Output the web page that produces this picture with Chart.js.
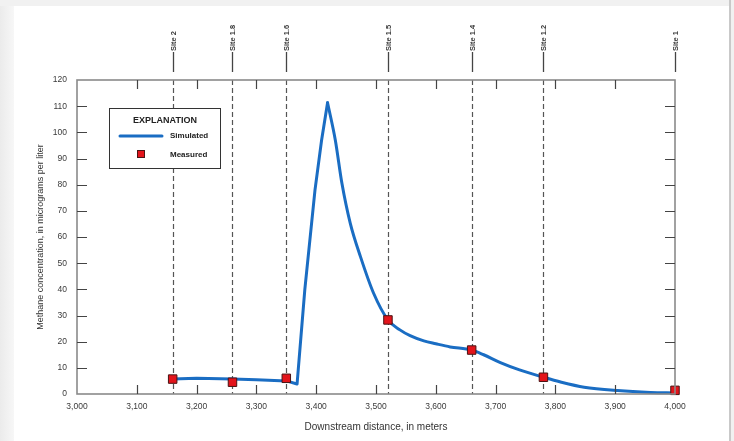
<!DOCTYPE html>
<html><head><meta charset="utf-8">
<script src="https://cdn.jsdelivr.net/npm/chart.js@4/dist/chart.umd.min.js"></script>
<style>
html,body{margin:0;padding:0;background:#fff;}
#wrap{position:relative;width:734px;height:441px;background:#fff;overflow:hidden}
#lstrip{position:absolute;left:0;top:0;width:14px;height:441px;background:linear-gradient(to right,#ebebeb,#f7f7f7)}
#tstrip{position:absolute;left:0;top:0;width:734px;height:6px;background:#f1f1f1}
#rstrip{position:absolute;right:0;top:0;width:3px;height:441px;background:#f1f1f1;border-left:2px solid #c9c9c9}
canvas{position:absolute;left:0;top:0}
</style></head>
<body><div id="wrap"><div id="lstrip"></div><div id="tstrip"></div><div id="rstrip"></div>
<canvas id="c" width="734" height="441" style="width:734px;height:441px"></canvas></div>
<script>
// ---- data ----
const simDistance = [3160,3200,3260,3300,3350,3368,3381,3398,3409,3419,3432,3443,3457,3474,3496,3520,3540,3557,3580,3600,3624,3660,3680,3708,3740,3780,3810,3848,3904,3959,4000];
const simConc     = [5.7, 6.0, 5.7, 5.4, 5.0, 3.8, 40,  78,  97,  111.3,97, 80.5,65.2,52.5,38.5,28.3,24.5,22.3,20.3,19.2,18.0,16.8,15.0,12.0,9.2, 6.4, 4.5, 2.6, 1.3, 0.6, 0.4];
const siteNames    = ['Site 2','Site 1.8','Site 1.6','Site 1.5','Site 1.4','Site 1.2','Site 1'];
const siteDistance = [3160,3260,3350,3520,3660,3780,4000];
const measuredConc = [5.7,4.5,6.0,28.3,16.8,6.4,1.4];
const xTickValues  = [3000,3100,3200,3300,3400,3500,3600,3700,3800,3900,4000];
const yTickValues  = [0,10,20,30,40,50,60,70,80,90,100,110,120];

const FONT = "'Liberation Sans Narrow','Arial Narrow','Liberation Sans',sans-serif";
const TXT = '#3a3a3a';
const SIM_COLOR = '#1a6dc3';

// simulated curve: rising part drawn straight, decay after the peak drawn smooth
const peakIdx = simConc.indexOf(Math.max(...simConc));
const simPoints = simDistance.map((d,i)=>({x:d,y:simConc[i]}));

const framePlugin = {
  id:'frame',
  beforeDatasetsDraw(chart){
    const {ctx, chartArea:a, scales:{x}} = chart;
    ctx.save();
    ctx.strokeStyle = '#555'; ctx.lineWidth = 1.2; ctx.setLineDash([5,3]);
    siteDistance.forEach(d=>{
      if (d>=x.max) return;
      const px = Math.round(x.getPixelForValue(d))+0.5;
      ctx.beginPath(); ctx.moveTo(px,a.top); ctx.lineTo(px,a.bottom); ctx.stroke();
    });
    ctx.setLineDash([]);
    siteDistance.forEach((d,i)=>{
      const px = Math.round(x.getPixelForValue(d))+0.5;
      ctx.strokeStyle='#444'; ctx.lineWidth=1.3;
      ctx.beginPath(); ctx.moveTo(px,a.top-28); ctx.lineTo(px,a.top-8); ctx.stroke();
      ctx.save(); ctx.translate(px,a.top-29); ctx.rotate(-Math.PI/2);
      ctx.fillStyle=TXT; ctx.font="bold 7.5px "+FONT; ctx.textAlign='left'; ctx.textBaseline='middle';
      ctx.fillText(siteNames[i],0,0); ctx.restore();
    });
    ctx.restore();
  },
  afterDatasetsDraw(chart){
    const {ctx, chartArea:a, scales:{x,y}} = chart;
    ctx.save();
    ctx.strokeStyle='#8a8a8a'; ctx.lineWidth=1.6;
    ctx.strokeRect(a.left, a.top, a.right-a.left, a.bottom-a.top);
    ctx.strokeStyle='#444'; ctx.lineWidth=1.2;
    xTickValues.forEach(v=>{
      if (v===x.min||v===x.max) return;
      const px = Math.round(x.getPixelForValue(v))+0.5;
      ctx.beginPath(); ctx.moveTo(px,a.bottom); ctx.lineTo(px,a.bottom-9);
      ctx.moveTo(px,a.top); ctx.lineTo(px,a.top+9); ctx.stroke();
    });
    yTickValues.forEach(v=>{
      if (v===y.min||v===y.max) return;
      const py = Math.round(y.getPixelForValue(v))+0.5;
      ctx.beginPath(); ctx.moveTo(a.left,py); ctx.lineTo(a.left+10,py);
      ctx.moveTo(a.right,py); ctx.lineTo(a.right-10,py); ctx.stroke();
    });
    // explanation box
    const L=a.left+32, T=a.top+28, W=111, H=60;
    ctx.fillStyle='#fff'; ctx.fillRect(L,T,W,H);
    ctx.strokeStyle='#333'; ctx.lineWidth=1; ctx.strokeRect(L+0.5,T+0.5,W,H);
    ctx.fillStyle='#222'; ctx.textBaseline='middle';
    ctx.font="bold 9px "+FONT; ctx.textAlign='center';
    ctx.fillText('EXPLANATION', L+56, T+13);
    const ds = chart.data.datasets;
    ctx.strokeStyle=SIM_COLOR; ctx.lineWidth=3; ctx.lineCap='round';
    ctx.beginPath(); ctx.moveTo(L+11,T+28); ctx.lineTo(L+53,T+28); ctx.stroke();
    ctx.fillStyle=ds[2].backgroundColor; ctx.strokeStyle=ds[2].borderColor; ctx.lineWidth=1;
    ctx.fillRect(L+28,T+42,8,8); ctx.strokeRect(L+28.5,T+42.5,7,7);
    ctx.fillStyle='#222'; ctx.font="bold 8px "+FONT; ctx.textAlign='left';
    ctx.fillText('Simulated', L+61, T+28);
    ctx.fillText('Measured', L+61, T+47);
    ctx.restore();
  }
};

new Chart(document.getElementById('c'), {
  type:'scatter',
  data:{datasets:[
    {label:'Simulated', data: simPoints.slice(0,peakIdx+1), showLine:true,
     borderColor:SIM_COLOR, backgroundColor:SIM_COLOR, borderWidth:3, pointRadius:0, tension:0,
     borderJoinStyle:'round', borderCapStyle:'round', clip:false, order:3},
    {label:'Simulated', data: simPoints.slice(peakIdx), showLine:true,
     borderColor:SIM_COLOR, backgroundColor:SIM_COLOR, borderWidth:3, pointRadius:0,
     cubicInterpolationMode:'monotone', borderJoinStyle:'round', borderCapStyle:'round', clip:false, order:2},
    {label:'Measured', data: siteDistance.map((d,i)=>({x:d,y:measuredConc[i]})), pointStyle:'rect',
     pointRadius:6, backgroundColor:'#e3141b', borderColor:'#4a1414', borderWidth:1, clip:false, order:1}
  ]},
  options:{
    responsive:false, animation:false, devicePixelRatio:1,
    layout:{padding:{left:0,right:59,top:80,bottom:0}},
    plugins:{legend:{display:false}, tooltip:{enabled:false}},
    scales:{
      x:{type:'linear', min:3000, max:4000,
         afterBuildTicks: s=>{ s.ticks = xTickValues.map(v=>({value:v})); },
         afterFit: s=>{ s.height = 47; },
         ticks:{callback:v=>v.toLocaleString('en-US'), font:{family:FONT,size:8.5}, color:TXT, padding:8, maxRotation:0, autoSkip:false},
         grid:{display:false, drawTicks:false}, border:{display:false},
         title:{display:true, text:'Downstream distance, in meters', font:{family:FONT,size:10}, color:'#333', padding:{top:0,bottom:8}}},
      y:{min:0, max:120,
         afterBuildTicks: s=>{ s.ticks = yTickValues.map(v=>({value:v})); },
         afterFit: s=>{ s.width = 77; },
         ticks:{font:{family:FONT,size:8.5}, color:TXT, padding:10, autoSkip:false},
         grid:{display:false, drawTicks:false}, border:{display:false},
         title:{display:true, text:'Methane concentration, in micrograms per liter', font:{family:FONT,size:9}, color:'#333', padding:{top:35,bottom:0}}}
    }
  },
  plugins:[framePlugin]
});
</script>
</body></html>
